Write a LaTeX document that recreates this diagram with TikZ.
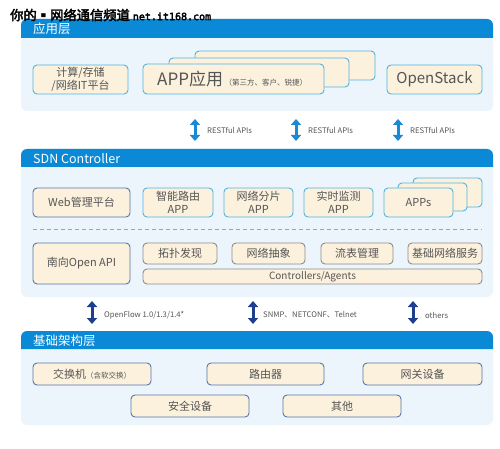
\documentclass[tikz,border=0pt]{standalone}
\usepackage{fontspec}
\setmainfont{Noto Sans CJK SC}
\newfontfamily\wmfont[FakeBold=3]{Noto Sans CJK SC}
\newfontfamily\wmmono[FakeBold=3]{DejaVu Sans Mono}
\usetikzlibrary{arrows.meta}
\definecolor{hdr}{HTML}{0A8AD6}
\definecolor{bodyc}{HTML}{EDF5FC}
\definecolor{lightb}{HTML}{4FB3E3}
\definecolor{darkb}{HTML}{5577AA}
\definecolor{grayb}{HTML}{8C8C8C}
\definecolor{boxf}{HTML}{FCF1DD}
\definecolor{txt}{HTML}{555555}
\definecolor{arrl}{HTML}{1A8AD4}
\definecolor{arrd}{HTML}{1C3F8F}
\tikzset{
  bx/.style={draw, fill=boxf, rounded corners=4, line width=0.9pt, text=txt, inner sep=0pt, align=center, font=\fontsize{11}{12.5}\selectfont},
  lb/.style={bx, draw=lightb},
  db/.style={bx, draw=darkb},
  gb/.style={bx, draw=grayb},
  hdrtxt/.style={text=white, anchor=west, font=\fontsize{12.5}{13}\selectfont, inner sep=0pt},
  alabel/.style={anchor=west, text=txt, inner sep=0pt, font=\fontsize{7.7}{8}\selectfont},
  larrow/.style={draw=arrl, line width=3pt, {Triangle[width=10pt,length=6pt]}-{Triangle[width=10pt,length=6pt]}},
  darrow/.style={draw=arrd, line width=3pt, {Triangle[width=10pt,length=6pt]}-{Triangle[width=10pt,length=6pt]}},
}
\newcommand{\layerframe}[3]{%
  \fill[bodyc, rounded corners=6] (21,#1) rectangle (493,#3);
  \fill[hdr] (21,#2) {[rounded corners=6] -- (21,#1) -- (493,#1)} -- (493,#2) -- cycle;
}
\begin{document}
\begin{tikzpicture}[x=1pt,y=-1pt]
\useasboundingbox[fill=white] (0,0) rectangle (500,449);

% ---------- Layer 1 ----------
\layerframe{19}{38}{111}
\node[hdrtxt] (h1) at (33,28.5) {应用层};
\node[lb, minimum width=95, minimum height=29] (it) at (80.5,79.5) {计算/存储\\/网络IT平台};
\node[lb, minimum width=180, minimum height=29] (app3) at (285,65.5) {};
\node[lb, minimum width=180, minimum height=29] (app2) at (259,72.5) {};
\node[lb, minimum width=181, minimum height=30] (app1) at (233.5,79) {};
\node[anchor=west, text=txt, inner sep=0pt] (appt) at (157,79) {{\fontsize{17}{18}\selectfont APP应用}\,{\fontsize{7.5}{8}\selectfont（第三方、客户、锐捷）}};
\node[lb, minimum width=95, minimum height=29, font=\fontsize{15}{16}\selectfont] (os) at (434.5,79.5) {OpenStack};

% RESTful arrows
\coordinate (r1a) at (195,119); \coordinate (r1b) at (195,141);
\coordinate (r2a) at (296,119); \coordinate (r2b) at (296,141);
\coordinate (r3a) at (398,119); \coordinate (r3b) at (398,141);
\draw[larrow] (r1a) -- (r1b);
\draw[larrow] (r2a) -- (r2b);
\draw[larrow] (r3a) -- (r3b);
\node[alabel] (rl1) at (207,130) {RESTful APIs};
\node[alabel] (rl2) at (308,130) {RESTful APIs};
\node[alabel] (rl3) at (410,130) {RESTful APIs};

% ---------- Layer 2 ----------
\layerframe{149}{167}{297}
\node[hdrtxt] (h2) at (33,158.5) {SDN Controller};
\node[db, minimum width=97, minimum height=29] (web) at (81.5,202.5) {Web管理平台};
\node[lb, minimum width=70, minimum height=29] (zn) at (178,202.5) {智能路由\\APP};
\node[lb, minimum width=69, minimum height=29] (wl) at (258.5,202.5) {网络分片\\APP};
\node[lb, minimum width=69, minimum height=29] (ss) at (338.5,202.5) {实时监测\\APP};
\node[lb, minimum width=69, minimum height=29] (apps3) at (447.5,192.5) {};
\node[lb, minimum width=69, minimum height=28] (apps2) at (432.5,197) {};
\node[lb, minimum width=69, minimum height=29] (apps1) at (418.5,202.5) {APPs};
\coordinate (dl) at (33,229); \coordinate (dr) at (482,229);
\draw[grayb!80, line width=0.7pt, dash pattern=on 4pt off 3pt] (dl) -- (dr);
\node[db, minimum width=97, minimum height=41] (south) at (81.5,263.5) {南向Open API};
\node[gb, minimum width=74, minimum height=21] (tp) at (180,253.5) {拓扑发现};
\node[gb, minimum width=73, minimum height=21] (wc) at (268.5,253.5) {网络抽象};
\node[gb, minimum width=72, minimum height=21] (lbm) at (357,253.5) {流表管理};
\node[gb, minimum width=74, minimum height=21] (jc) at (445,253.5) {基础网络服务};
\node[gb, minimum width=339, minimum height=15, font=\fontsize{10}{11}\selectfont] (ca) at (312.5,276.5) {Controllers/Agents};

% southbound arrows
\coordinate (s1a) at (92,301); \coordinate (s1b) at (92,324);
\coordinate (s2a) at (253,301); \coordinate (s2b) at (253,324);
\coordinate (s3a) at (413,301); \coordinate (s3b) at (413,324);
\draw[darrow] (s1a) -- (s1b);
\draw[darrow] (s2a) -- (s2b);
\draw[darrow] (s3a) -- (s3b);
\node[alabel] (sl1) at (104,315) {OpenFlow 1.0/1.3/1.4*};
\node[alabel] (sl2) at (263,315) {SNMP、NETCONF、Telnet};
\node[alabel] (sl3) at (425,315) {others};

% ---------- Layer 3 ----------
\layerframe{331}{349}{425}
\node[hdrtxt] (h3) at (33,340.5) {基础架构层};
\node[db, minimum width=118, minimum height=22] (sw) at (92,374) {交换机{\fontsize{7.5}{8}\selectfont（含软交换）}};
\node[db, minimum width=117, minimum height=22] (rt) at (265.5,374) {路由器};
\node[db, minimum width=119, minimum height=22] (gw) at (422.5,374) {网关设备};
\node[db, minimum width=118, minimum height=22] (sec) at (190,406) {安全设备};
\node[db, minimum width=118, minimum height=22] (oth) at (342,406) {其他};

% watermark
\node[anchor=west, inner sep=0pt, text=black] (wm) at (10,15) {\wmfont\fontsize{13.3}{14}\selectfont 你的▪网络通信频道\hspace{3pt}\wmmono\fontsize{10}{11}\selectfont net.it168.com};
\end{tikzpicture}
\end{document}
